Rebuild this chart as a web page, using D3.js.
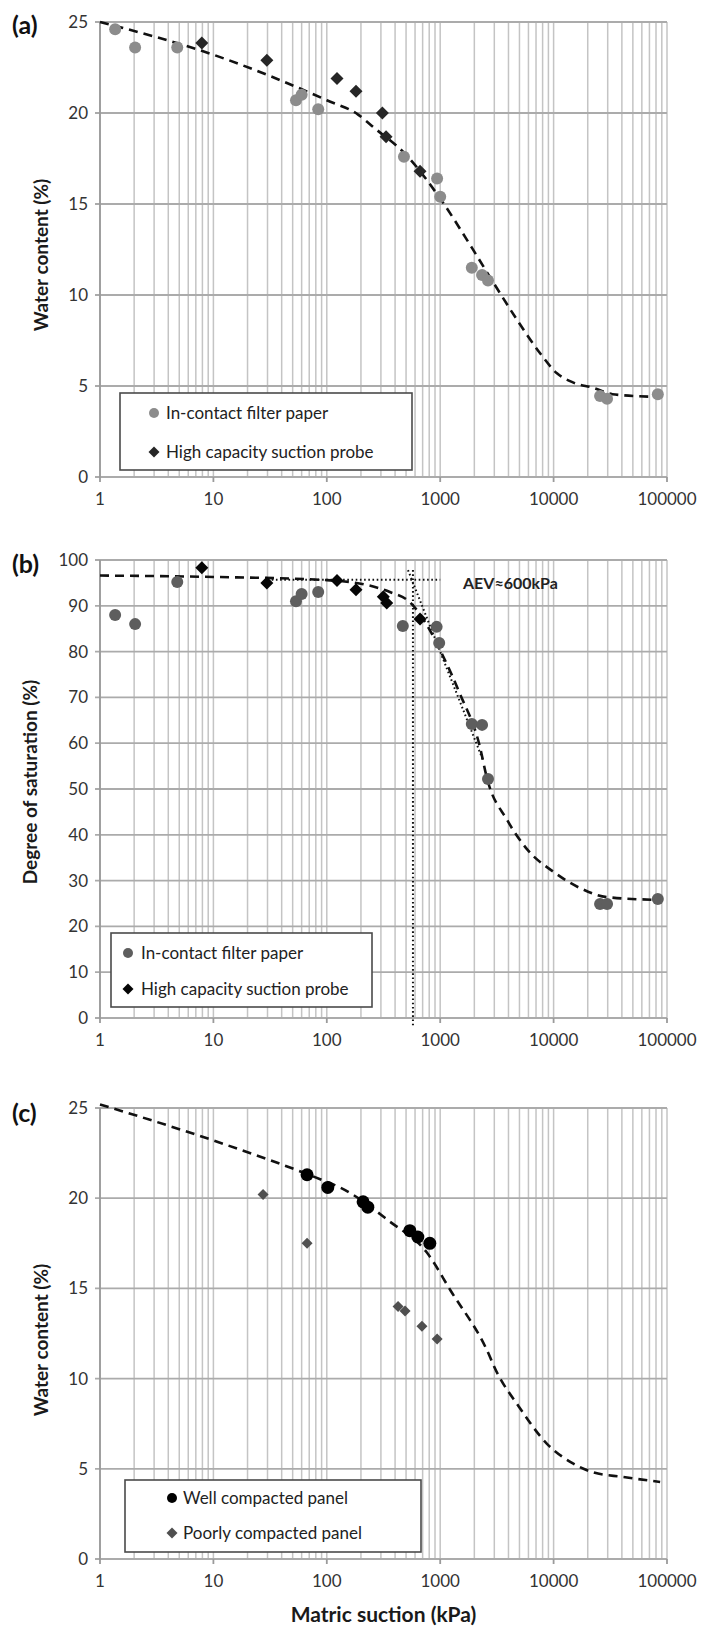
<!DOCTYPE html>
<html>
<head>
<meta charset="utf-8">
<script src="https://cdn.jsdelivr.net/npm/d3@7"></script>
<style>
  body { margin: 0; background: #fff; }
  text { font-family: Lato, "Open Sans", sans-serif; }
</style>
</head>
<body>
<svg id="chart" width="703" height="1629"></svg>
<script>
// ---- data ----
// (a) water content
const aFilterX = [1.36, 2.04, 4.8, 53.5, 60, 84, 479, 939, 1000, 1900, 2340, 2640, 25700, 29600, 83000];
const aFilterY = [24.6, 23.6, 23.6, 20.7, 21.0, 20.2, 17.6, 16.4, 15.4, 11.5, 11.1, 10.8, 4.45, 4.3, 4.55];
const aProbeX = [7.9, 29.6, 123, 181, 309, 333, 664];
const aProbeY = [23.85, 22.9, 21.9, 21.2, 20.0, 18.7, 16.8];
const aFitX = [1, 10, 100, 190, 260, 500, 1000, 1900, 3000, 4800, 7600, 10700, 14800, 22400, 33000, 81000];
const aFitY = [25, 23.2, 20.7, 19.9, 19.2, 17.7, 15.3, 12.6, 10.6, 8.6, 6.8, 5.7, 5.2, 4.9, 4.55, 4.4];

// (b) degree of saturation
const bFilterX = [1.36, 2.04, 4.8, 53.5, 60, 84, 468, 930, 980, 1900, 2340, 2640, 25700, 29600, 83000];
const bFilterY = [88.0, 86.0, 95.2, 91.0, 92.6, 93.0, 85.6, 85.4, 81.9, 64.2, 64.0, 52.2, 24.9, 24.9, 26.0];
const bProbeX = [7.9, 29.6, 123, 181, 315, 338, 664];
const bProbeY = [98.3, 95.0, 95.5, 93.5, 92.0, 90.6, 87.1];
const bFitX = [1, 10, 100, 230, 360, 540, 810, 1000, 1480, 2240, 2570, 3900, 5900, 10000, 17000, 29500, 81000];
const bFitY = [96.6, 96.3, 95.6, 94.5, 93.0, 90.8, 84.7, 80.3, 71, 59.2, 52.6, 43.2, 36.7, 31.9, 28.4, 26.4, 25.8];
const aevHorizX = [30, 1000];
const aevHorizY = [95.7, 95.7];
const aevVertX = [575, 575];
const aevVertY = [97.8, -2];
const aevTanX = [520, 2385];
const aevTanY = [97.8, 56.3];
const aevLabel = "AEV≈600kPa";

// (c) compacted panels
const cWellX = [67, 102, 209, 230, 540, 635, 810];
const cWellY = [21.3, 20.6, 19.8, 19.5, 18.2, 17.85, 17.5];
const cPoorX = [27.4, 67, 425, 490, 690, 940];
const cPoorY = [20.2, 17.5, 14.0, 13.75, 12.9, 12.2];
const cFitX = [1, 10, 100, 130, 360, 760, 1230, 2750, 2950, 5000, 8700, 14800, 22400, 40700, 87000];
const cFitY = [25.2, 23.2, 20.9, 20.6, 18.7, 17.0, 14.9, 11.2, 10.75, 8.4, 6.4, 5.3, 4.8, 4.55, 4.27];

const xTickLabels = ["1", "10", "100", "1000", "10000", "100000"];
const legendA = ["In-contact filter paper", "High capacity suction probe"];
const legendC = ["Well compacted panel", "Poorly compacted panel"];

const svg = d3.select("#chart");
const plotLeft = 100, plotRight = 667;

const x = d3.scaleLog().domain([1, 1e5]).range([plotLeft, plotRight]);

function zip(xs, ys) {
    return xs.map((v, i) => ({ x: v, y: ys[i] }));
}

function diamond(g, cx, cy, r, color) {
    g.append("path")
        .attr("d", d3.symbol().type(d3.symbolSquare).size(2 * r * r)())
        .attr("transform", `translate(${cx},${cy}) rotate(45)`)
        .style("fill", color);
}

// axes + grid
function drawFrame(p) {
    const y = d3.scaleLinear().domain([0, p.yMax]).range([p.bottom, p.top]);
    const g = svg.append("g");

    // vertical grid (log)
    g.selectAll(".vg").data(x.ticks())
        .join("line")
        .attr("x1", d => x(d)).attr("x2", d => x(d))
        .attr("y1", p.top).attr("y2", p.bottom)
        .attr("stroke", "#c4c4c4").attr("stroke-width", 1.5);

    const yTicks = d3.range(0, p.yMax + 0.001, p.step);
    g.selectAll(".hg").data(yTicks)
        .join("line")
        .attr("x1", plotLeft - 5).attr("x2", plotRight)
        .attr("y1", d => y(d)).attr("y2", d => y(d))
        .attr("stroke", "#ababab").attr("stroke-width", 1.8);

    // left axis + ticks
    g.append("line")
        .attr("x1", plotLeft).attr("x2", plotLeft)
        .attr("y1", p.top).attr("y2", p.bottom)
        .attr("stroke", "#9a9a9a").attr("stroke-width", 1.8);

    // x decade ticks
    const decades = xTickLabels.map(Number);
    g.selectAll(".xt").data(decades)
        .join("line")
        .attr("x1", d => x(d)).attr("x2", d => x(d))
        .attr("y1", p.bottom).attr("y2", p.bottom + 5)
        .attr("stroke", "#9a9a9a").attr("stroke-width", 1.8);

    g.selectAll(".xl").data(decades)
        .join("text")
        .attr("x", d => x(d)).attr("y", p.bottom + 28)
        .attr("text-anchor", "middle")
        .style("font-size", "17px").style("fill", "#333")
        .text((d, i) => xTickLabels[i]);

    g.selectAll(".yl").data(yTicks)
        .join("text")
        .attr("x", 88).attr("y", d => y(d) + 6)
        .attr("text-anchor", "end")
        .style("font-size", "17px").style("fill", "#333")
        .text(d => d);

    // y title
    g.append("text")
        .attr("transform", `translate(${p.titleX},${p.titleY}) rotate(-90)`)
        .attr("text-anchor", "middle")
        .style("font-size", "19px").style("font-weight", "bold").style("fill", "#1a1a1a")
        .text(p.title);

    // panel letter
    g.append("text")
        .attr("x", 12).attr("y", p.letterY)
        .style("font-size", "25px").style("font-weight", "bold").style("fill", "#111")
        .text(p.letter);

    return y;
}

function drawFit(y, data, dash, width) {
    const line = d3.line()
        .x(d => x(d.x))
        .y(d => y(d.y))
        .curve(d3.curveMonotoneX);
    svg.append("path")
        .datum(data)
        .attr("fill", "none")
        .attr("stroke", "#111")
        .attr("stroke-width", width)
        .attr("stroke-dasharray", dash)
        .attr("d", line);
}

function drawPoints(y, data, shape, r, color) {
    const g = svg.append("g");
    data.forEach(d => {
        if (shape === "circle") {
            g.append("circle")
                .attr("cx", x(d.x)).attr("cy", y(d.y)).attr("r", r)
                .style("fill", color);
        } else {
            diamond(g, x(d.x), y(d.y), r, color);
        }
    });
}

function drawLegend(box, labels, shapes, colors) {
    const g = svg.append("g");
    g.append("rect")
        .attr("x", box.x).attr("y", box.y)
        .attr("width", box.w).attr("height", box.h)
        .attr("fill", "#fff").attr("stroke", "#4a4a4a").attr("stroke-width", 1.6);
    labels.forEach((lab, i) => {
        const cy = box.y + box.row0 + i * box.gap;
        if (shapes[i] === "circle") {
            g.append("circle").attr("cx", box.mx).attr("cy", cy).attr("r", 5).style("fill", colors[i]);
        } else {
            diamond(g, box.mx, cy, 5.5, colors[i]);
        }
        g.append("text")
            .attr("x", box.tx).attr("y", cy + 6)
            .style("font-size", "17px").style("fill", "#222")
            .text(lab);
    });
}

// ---- panel (a) ----
const yA = drawFrame({ yMax: 25, step: 5, top: 22, bottom: 477, title: "Water content (%)",
    titleX: 48, titleY: 255, letter: "(a)", letterY: 34 });
drawFit(yA, zip(aFitX, aFitY), "9,6", 2.6);
drawPoints(yA, zip(aFilterX, aFilterY), "circle", 6, "#8c8c8c");
drawPoints(yA, zip(aProbeX, aProbeY), "diamond", 6.5, "#262626");
drawLegend({ x: 120, y: 393, w: 292, h: 77, row0: 20, gap: 39, mx: 154, tx: 166 },
    legendA, ["circle", "diamond"], ["#8c8c8c", "#262626"]);

// ---- panel (b) ----
const yB = drawFrame({ yMax: 100, step: 10, top: 560, bottom: 1018, title: "Degree of saturation (%)",
    titleX: 37, titleY: 782, letter: "(b)", letterY: 573 });
drawFit(yB, zip(bFitX, bFitY), "9,6", 2.6);
drawFit(yB, zip(aevHorizX, aevHorizY), "1.6,2.6", 2);
drawFit(yB, zip(aevVertX, aevVertY), "1.6,2.6", 2);
drawFit(yB, zip(aevTanX, aevTanY), "1.6,2.6", 2);
drawPoints(yB, zip(bFilterX, bFilterY), "circle", 6, "#5e5e5e");
drawPoints(yB, zip(bProbeX, bProbeY), "diamond", 6.5, "#050505");
svg.append("text")
    .attr("x", 463).attr("y", yB(95.7) + 9)
    .style("font-size", "16px").style("font-weight", "bold").style("fill", "#222")
    .text(aevLabel);
drawLegend({ x: 111, y: 933, w: 261, h: 74, row0: 20, gap: 36, mx: 128, tx: 141 },
    legendA, ["circle", "diamond"], ["#5e5e5e", "#050505"]);

// ---- panel (c) ----
const yC = drawFrame({ yMax: 25, step: 5, top: 1108, bottom: 1559, title: "Water content (%)",
    titleX: 48, titleY: 1340, letter: "(c)", letterY: 1122 });
drawFit(yC, zip(cFitX, cFitY), "9,6", 2.6);
drawPoints(yC, zip(cWellX, cWellY), "circle", 6.5, "#000");
drawPoints(yC, zip(cPoorX, cPoorY), "diamond", 5.5, "#4f4f4f");
drawLegend({ x: 125, y: 1480, w: 296, h: 72, row0: 18, gap: 35, mx: 172, tx: 183 },
    legendC, ["circle", "diamond"], ["#000", "#4f4f4f"]);

// x title
svg.append("text")
    .attr("x", (plotLeft + plotRight) / 2).attr("y", 1622)
    .attr("text-anchor", "middle")
    .style("font-size", "21px").style("font-weight", "bold").style("fill", "#1a1a1a")
    .text("Matric suction (kPa)");
</script>
</body>
</html>
